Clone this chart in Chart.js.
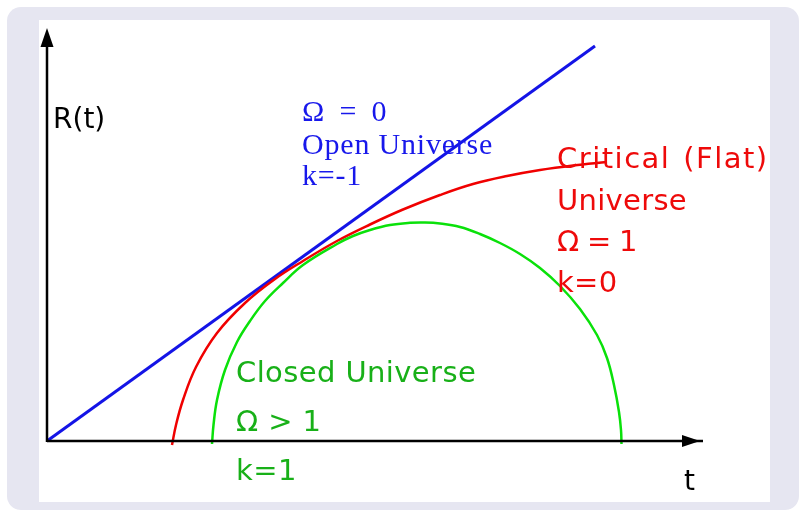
<!DOCTYPE html>
<html><head><meta charset="utf-8">
<script src="https://cdn.jsdelivr.net/npm/chart.js@4.4.0/dist/chart.umd.min.js"></script>
<style>
html,body{margin:0;padding:0;background:#fff;overflow:hidden;}
#frame{position:absolute;left:7px;top:7px;width:792px;height:503px;background:#e6e6f1;border-radius:14px;}
#panel{position:absolute;left:39px;top:20px;width:731px;height:482px;background:#fff;}
canvas{position:absolute;left:0;top:0;}
</style></head><body>
<div id="frame"></div><div id="panel"></div>
<canvas id="c" width="800" height="511"></canvas>
<script>
// Open universe (straight line)
const openT = [0, 10.96];
const openR = [0, 7.90];
// Critical (flat) universe
const flatT = [2.50, 2.58, 2.72, 2.98, 3.40, 3.96, 4.56, 5.12, 5.80, 6.46, 7.12, 7.86, 8.52, 9.20, 9.86, 10.52, 11.20];
const flatR = [-0.08, 0.32, 0.82, 1.48, 2.16, 2.76, 3.24, 3.60, 4.00, 4.33, 4.63, 4.92, 5.14, 5.30, 5.42, 5.51, 5.58];
// Closed universe
const closedT = [3.30, 3.33, 3.40, 3.56, 3.80, 4.06, 4.36, 4.72, 5.12, 5.80, 6.12, 6.46, 6.86, 7.26, 7.56, 7.86, 8.26, 8.66, 9.06, 9.46, 9.86, 10.26, 10.66, 11.00, 11.20, 11.34, 11.44, 11.48, 11.49];
const closedR = [-0.06, 0.32, 0.82, 1.42, 1.98, 2.40, 2.80, 3.16, 3.52, 3.94, 4.10, 4.22, 4.32, 4.364, 4.37, 4.35, 4.28, 4.14, 3.96, 3.74, 3.46, 3.10, 2.64, 2.12, 1.66, 1.12, 0.58, 0.22, -0.06];
// Axis extents
const axisT = [0, 13.12];
const axisR = [0, 8.26];
// Text
const openText = ['Ω = 0', 'Open Universe', 'k=-1'];
const flatText = ['Critical (Flat)', 'Universe', 'Ω = 1', 'k=0'];
const closedText = ['Closed Universe', 'Ω > 1', 'k=1'];
const yAxisLabel = 'R(t)';
const xAxisLabel = 't';

const pts = (xs, ys) => xs.map((x, i) => ({x: x, y: ys[i]}));

const overlay = {
  id: 'overlay',
  afterDatasetsDraw(chart) {
    const ctx = chart.ctx, xs = chart.scales.x, ys = chart.scales.y;
    const x0 = xs.getPixelForValue(axisT[0]), y0 = ys.getPixelForValue(axisR[0]);
    const xe = xs.getPixelForValue(axisT[1]), ye = ys.getPixelForValue(axisR[1]);
    ctx.save();
    ctx.strokeStyle = '#000'; ctx.fillStyle = '#000'; ctx.lineWidth = 2.5;
    ctx.beginPath(); ctx.moveTo(x0, y0); ctx.lineTo(xe, y0); ctx.stroke();
    ctx.beginPath(); ctx.moveTo(x0, y0 + 1); ctx.lineTo(x0, ye + 6); ctx.stroke();
    ctx.beginPath(); ctx.moveTo(xe - 3, y0); ctx.lineTo(xe - 21, y0 - 6); ctx.lineTo(xe - 21, y0 + 6); ctx.closePath(); ctx.fill();
    ctx.beginPath(); ctx.moveTo(x0, ye); ctx.lineTo(x0 - 6.5, ye + 19); ctx.lineTo(x0 + 6.5, ye + 19); ctx.closePath(); ctx.fill();

    ctx.textBaseline = 'alphabetic'; ctx.textAlign = 'left';
    ctx.font = '28px "DejaVu Sans"';
    ctx.fillText(yAxisLabel, 53, 128);
    ctx.fillText(xAxisLabel, 684, 490);

    ctx.fillStyle = 'rgb(24,24,235)';
    ctx.font = '30px "Liberation Serif"';
    ctx.letterSpacing = '0.8px';
    const ob = [121, 154, 185];
    openText.forEach((t, i) => {
      ctx.wordSpacing = i === 0 ? '6px' : '0px';
      ctx.fillText(t, 302, ob[i]);
    });

    ctx.fillStyle = 'rgb(238,10,10)';
    ctx.font = '29px "DejaVu Sans"';
    const fb = [168, 210, 251, 292];
    flatText.forEach((t, i) => {
      ctx.letterSpacing = i === 0 ? '1.5px' : '0.3px';
      ctx.wordSpacing = i === 0 ? '2px' : '-2px';
      ctx.fillText(t, 557, fb[i]);
    });

    ctx.fillStyle = 'rgb(24,176,24)';
    ctx.letterSpacing = '0.4px';
    const cb = [382, 431, 480];
    closedText.forEach((t, i) => {
      ctx.wordSpacing = '0px';
      ctx.fillText(t, 236, cb[i]);
    });
    ctx.restore();
  }
};

new Chart(document.getElementById('c'), {
  type: 'scatter',
  data: {
    datasets: [
      {data: pts(closedT, closedR), showLine: true, borderColor: 'rgb(10,225,10)', borderWidth: 2.5, pointRadius: 0, tension: 0.4, clip: false},
      {data: pts(flatT, flatR), showLine: true, borderColor: 'rgb(240,0,0)', borderWidth: 2.5, pointRadius: 0, tension: 0.4, clip: false},
      {data: pts(openT, openR), showLine: true, borderColor: 'rgb(20,20,230)', borderWidth: 3, pointRadius: 0, tension: 0, clip: false}
    ]
  },
  options: {
    responsive: false, animation: false, devicePixelRatio: 1,
    layout: {padding: {left: 47, right: 3, top: 16, bottom: 70}},
    plugins: {legend: {display: false}, tooltip: {enabled: false}},
    scales: {
      x: {type: 'linear', min: 0, max: 15, display: false},
      y: {type: 'linear', min: 0, max: 8.5, display: false}
    }
  },
  plugins: [overlay]
});
</script>
</body></html>
